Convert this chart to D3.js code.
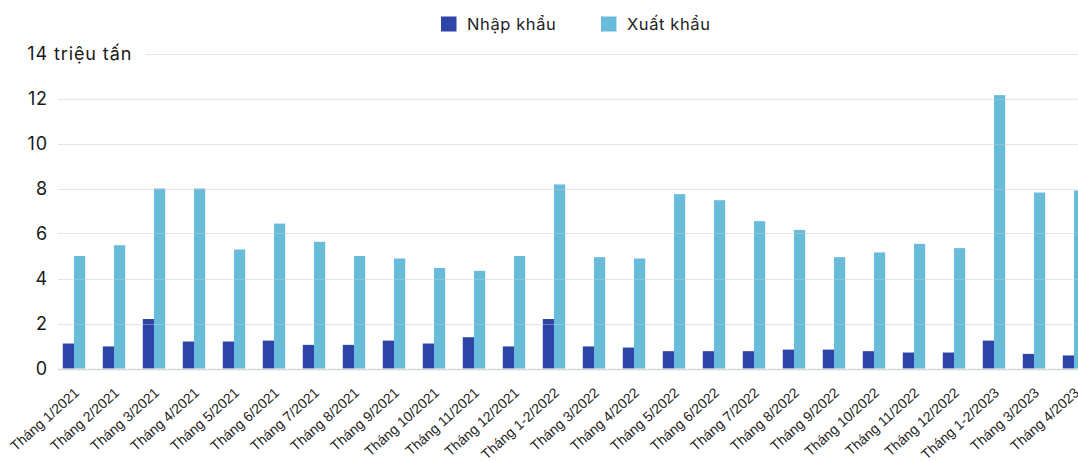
<!DOCTYPE html>
<html>
<head>
<meta charset="utf-8">
<script src="https://cdn.jsdelivr.net/npm/d3@7"></script>
<style>
  html, body { margin: 0; padding: 0; background: #fff; overflow: hidden; }
  svg { display: block; }
</style>
</head>
<body>
<svg id="chart" width="1078" height="461"></svg>
<script>
// Monthly rice trade, million tonnes
const categories = [
  "Tháng 1/2021", "Tháng 2/2021", "Tháng 3/2021", "Tháng 4/2021", "Tháng 5/2021",
  "Tháng 6/2021", "Tháng 7/2021", "Tháng 8/2021", "Tháng 9/2021", "Tháng 10/2021",
  "Tháng 11/2021", "Tháng 12/2021", "Tháng 1-2/2022", "Tháng 3/2022", "Tháng 4/2022",
  "Tháng 5/2022", "Tháng 6/2022", "Tháng 7/2022", "Tháng 8/2022", "Tháng 9/2022",
  "Tháng 10/2022", "Tháng 11/2022", "Tháng 12/2022", "Tháng 1-2/2023", "Tháng 3/2023",
  "Tháng 4/2023"
];
const importValues = [
  1.11, 0.98, 2.2, 1.2, 1.2, 1.24, 1.05, 1.05, 1.24, 1.11,
  1.39, 0.98, 2.2, 0.98, 0.93, 0.77, 0.77, 0.77, 0.84, 0.84,
  0.77, 0.71, 0.71, 1.24, 0.65, 0.58
];
const exportValues = [
  5.0, 5.48, 8.0, 8.0, 5.29, 6.44, 5.63, 5.0, 4.89, 4.47,
  4.34, 5.0, 8.18, 4.95, 4.89, 7.75, 7.48, 6.55, 6.16, 4.95,
  5.16, 5.54, 5.35, 12.15, 7.82, 7.91
];
const seriesNames = ["Nhập khẩu", "Xuất khẩu"];
const seriesColors = ["#2c45a6", "#69bcd9"];
const yTicks = [0, 2, 4, 6, 8, 10, 12, 14];
const yUnit = "triệu tấn";

const rows = categories.map((c, i) => ({ cat: c, values: [importValues[i], exportValues[i]] }));

const svg = d3.select("#chart");
const W = 1078;

const x0 = d3.scaleBand().domain(categories).range([54, 1094])
  .paddingInner(0.44).paddingOuter(0.22);
const x1 = d3.scaleBand().domain([0, 1]).range([0, x0.bandwidth()]);
const y = d3.scaleLinear().domain([0, 14]).range([368.5, 53.5]);

// Bars
const groups = svg.append("g").selectAll("g").data(rows).join("g")
  .attr("transform", d => `translate(${x0(d.cat)},0)`);
groups.selectAll("rect").data(d => d.values.map((v, k) => ({ v, k }))).join("rect")
  .attr("x", d => x1(d.k))
  .attr("width", x1.bandwidth())
  .attr("y", d => y(d.v))
  .attr("height", d => y(0) - y(d.v))
  .attr("fill", d => seriesColors[d.k]);

// Gridlines, drawn over the bars
const labelFont = "Inter, 'Noto Sans', sans-serif";
const yAxis = svg.append("g");
yTicks.forEach(t => {
  const gy = Math.round(y(t)) + 0.5;
  yAxis.append("line")
    .attr("x1", t === 14 ? 146 : 58).attr("x2", W)
    .attr("y1", gy).attr("y2", gy)
    .attr("stroke", t === 0 ? "#d8d8d8" : "rgba(200,200,200,0.45)")
    .attr("stroke-width", t === 0 ? 1.5 : 1.2);
});

// Y tick labels (numbers right-aligned, top one carries the unit)
const yFontSize = 18, ySpacing = 0.9;
yTicks.forEach(t => {
  const txt = yAxis.append("text")
    .attr("y", y(t)).attr("dy", "0.36em")
    .attr("font-family", labelFont).attr("font-size", yFontSize)
    .attr("letter-spacing", ySpacing)
    .attr("fill", "#1a1a1a");
  if (t === 14) {
    const probe = yAxis.append("text").attr("font-family", labelFont)
      .attr("font-size", yFontSize).attr("letter-spacing", ySpacing).text(String(t));
    const w = probe.node().getComputedTextLength();
    probe.remove();
    txt.attr("x", 48 - w).attr("text-anchor", "start").text(`${t} ${yUnit}`);
  } else {
    txt.attr("x", 48).attr("text-anchor", "end").text(String(t));
  }
});

// X axis labels, rotated
const xAxis = svg.append("g")
  .attr("font-family", "'Liberation Sans', Arial, sans-serif")
  .attr("font-size", 14).attr("fill", "#222");
categories.forEach(c => {
  const cx = x0(c) + x0.bandwidth() / 2 + 6;
  xAxis.append("text")
    .attr("transform", `translate(${cx},394) rotate(-42)`)
    .attr("text-anchor", "end")
    .text(c);
});

// Legend
const legend = svg.append("g").attr("font-family", labelFont).attr("font-size", 16.5).attr("fill", "#222");
const legendX = [441, 601];
seriesNames.forEach((name, k) => {
  legend.append("rect").attr("x", legendX[k]).attr("y", 16.5).attr("width", 15.5).attr("height", 15)
    .attr("fill", seriesColors[k]);
  legend.append("text").attr("x", legendX[k] + 26).attr("y", 29.5)
    .attr("letter-spacing", 0.6).text(name);
});
</script>
</body>
</html>
